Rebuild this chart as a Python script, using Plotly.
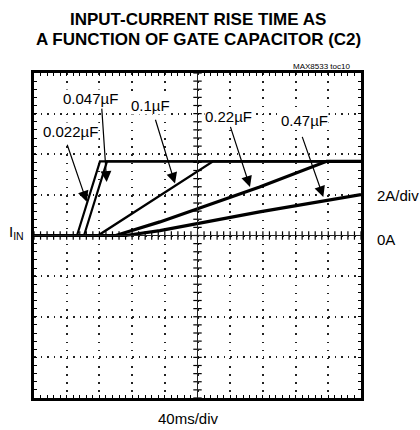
import numpy as np
import plotly.graph_objects as go

# ---- data (time in ms, current in A) ----
t_022 = [0, 52.6, 80.7, 400]
i_022 = [0, 0, 3.65, 3.65]
t_047 = [0, 61.2, 89.3, 400]
i_047 = [0, 0, 3.65, 3.65]
t_01 = [0, 78.3, 219, 400]
i_01 = [0, 0, 3.65, 3.65]
t_022b = [0, 100, 154, 276, 358, 400]
i_022b = [0, 0, 0.67, 2.39, 3.65, 3.65]
t_047b = [0, 112, 154, 276, 400]
i_047b = [0, 0, 0.24, 1.16, 2.01]

series = [
    ("0.022µF", t_022, i_022, 2.2),
    ("0.047µF", t_047, i_047, 2.2),
    ("0.1µF", t_01, i_01, 2.4),
    ("0.22µF", t_022b, i_022b, 3.2),
    ("0.47µF", t_047b, i_047b, 3.2),
]

# label positions (text center) and arrows (tail -> head), data coords
label_xy = {"0.022µF": (44.6, 5.13), "0.047µF": (68.5, 6.75), "0.1µF": (142.5, 6.38),
            "0.22µF": (238.5, 5.84), "0.47µF": (330.3, 5.65)}
arrow_tail = {"0.022µF": (40, 4.54), "0.047µF": (82.8, 6.32), "0.1µF": (148, 5.77),
              "0.22µF": (239.7, 5.42), "0.47µF": (327.5, 4.93)}
arrow_head = {"0.022µF": (64.5, 1.66), "0.047µF": (88.9, 2.64), "0.1µF": (172.5, 2.56),
              "0.22µF": (264.2, 2.39), "0.47µF": (353.9, 1.90)}

FONT = "Liberation Sans, Arial, Helvetica, sans-serif"

fig = go.Figure()

# graticule center cross ticks
yt = np.arange(-8, 8.001, 0.4)
xt = np.arange(0, 400.001, 8)
fig.add_shape(type="line", x0=200, x1=200, y0=-8, y1=8, line=dict(color="#222", width=1))
fig.add_shape(type="line", x0=0, x1=400, y0=0, y1=0, line=dict(color="#222", width=1))
fig.add_trace(go.Scatter(x=[200] * len(yt), y=yt, mode="markers", hoverinfo="skip",
                         marker=dict(symbol="line-ew", size=6, line=dict(color="black", width=1.2)),
                         showlegend=False))
fig.add_trace(go.Scatter(x=xt, y=[0] * len(xt), mode="markers", hoverinfo="skip",
                         marker=dict(symbol="line-ns", size=6, line=dict(color="black", width=1.2)),
                         showlegend=False))

for name, t, i, w in series:
    fig.add_trace(go.Scatter(x=t, y=i, mode="lines", name=name, showlegend=False,
                             line=dict(color="black", width=w)))

ann = []
for name in label_xy:
    hx, hy = arrow_head[name]
    tx, ty = arrow_tail[name]
    ann.append(dict(x=hx, y=hy, ax=tx, ay=ty, xref="x", yref="y", axref="x", ayref="y",
                    text="", showarrow=True, arrowhead=2, arrowsize=1.8, arrowwidth=1.2,
                    arrowcolor="black"))
    lx, ly = label_xy[name]
    ann.append(dict(x=lx, y=ly, xref="x", yref="y", text=name, showarrow=False,
                    bgcolor="white", borderpad=0, font=dict(family=FONT, size=15, color="black")))

ann += [
    dict(x=0.5, y=1.1631, xref="paper", yref="paper", text="<b>INPUT-CURRENT RISE TIME AS</b>",
         showarrow=False, yanchor="middle", font=dict(family=FONT, size=17, color="black")),
    dict(x=0.503, y=1.1031, xref="paper", yref="paper", text="<b>A FUNCTION OF GATE CAPACITOR (C2)</b>",
         showarrow=False, yanchor="middle", font=dict(family=FONT, size=17, color="black")),
    dict(x=0.9725, y=1.0215, xref="paper", yref="paper", text="MAX8533 toc10", showarrow=False,
         xanchor="right", yanchor="middle", font=dict(family=FONT, size=8, color="black")),
    dict(x=-0.0826, y=0.5077, xref="paper", yref="paper", text="I<sub>IN</sub>", showarrow=False,
         xanchor="left", yanchor="middle", font=dict(family=FONT, size=15, color="black")),
    dict(x=1.0428, y=0.6246, xref="paper", yref="paper", text="2A/div", showarrow=False,
         xanchor="left", yanchor="middle", font=dict(family=FONT, size=15, color="black")),
    dict(x=1.0428, y=0.4862, xref="paper", yref="paper", text="0A", showarrow=False,
         xanchor="left", yanchor="middle", font=dict(family=FONT, size=15, color="black")),
    dict(x=0.471, y=-0.0646, xref="paper", yref="paper", text="40ms/div", showarrow=False,
         yanchor="middle", font=dict(family=FONT, size=15, color="black")),
]

fig.update_layout(
    width=420, height=430,
    margin=dict(l=34, r=59, t=73, b=32),
    paper_bgcolor="white", plot_bgcolor="white",
    annotations=ann,
    xaxis=dict(range=[0, 400], dtick=40, tick0=0, showgrid=True, gridcolor="#222", gridwidth=1.5,
               griddash="1.5px,6.64px", showticklabels=False, ticks="inside", ticklen=3,
               tickcolor="black", showline=True, linewidth=3, linecolor="black", mirror="allticks",
               zeroline=False, fixedrange=True,
               minor=dict(dtick=8, ticks="inside", ticklen=3, tickcolor="black", showgrid=False)),
    yaxis=dict(range=[-8, 8], dtick=2, tick0=0, showgrid=True, gridcolor="#222", gridwidth=1.5,
               griddash="1.5px,5.04px", showticklabels=False, ticks="inside", ticklen=3,
               tickcolor="black", showline=True, linewidth=3, linecolor="black", mirror="allticks",
               zeroline=False, fixedrange=True,
               minor=dict(dtick=0.4, ticks="inside", ticklen=3, tickcolor="black", showgrid=False)),
)

fig.write_html("out.html", config={"displayModeBar": False},
               post_script="document.body.style.margin='0';document.body.style.overflow='hidden';")
